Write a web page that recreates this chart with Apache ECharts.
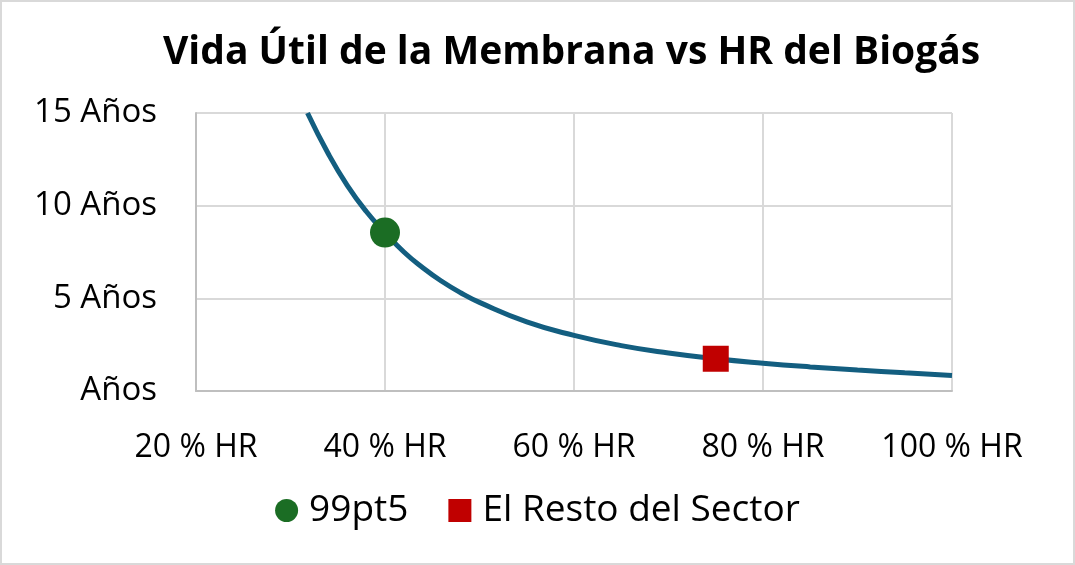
<!DOCTYPE html>
<html>
<head>
    <meta charset="utf-8">
    <title>Vida Útil de la Membrana</title>
    <style>
        html, body { margin: 0; padding: 0; background: #fff; }
        #chart { width: 1075px; height: 565px; box-sizing: border-box; border: 2px solid #d9d9d9; }
    </style>
</head>
<body>
    <div id="chart"></div>
    <script src="https://cdn.jsdelivr.net/npm/echarts@6/dist/echarts.min.js"></script>
    <script>
        // curve: % HR -> years
        var hr = [31.8, 34, 36, 38, 40, 42, 44, 46, 48, 50, 55, 60, 65, 70, 75, 80, 85, 90, 95, 100];
        var years = [15, 12.8, 11.1, 9.7, 8.55, 7.5, 6.65, 5.92, 5.3, 4.78, 3.73, 3.0, 2.45, 2.05, 1.74, 1.5, 1.3, 1.13, 0.98, 0.84];

        var point99pt5 = [40, 8.55];
        var pointResto = [75, 1.74];

        var xTicks = { min: 20, max: 100, interval: 20 };
        var yTicks = { min: 0, max: 15, interval: 5 };

        var font = 'Open Sans';

        var curve = hr.map(function (h, i) { return [h, years[i]]; });

        var myChart = echarts.init(document.getElementById('chart'));
        var option = {
            animation: false,
            title: {
                text: 'Vida Útil de la Membrana vs HR del Biogás',
                left: 156,
                top: 26,
                textStyle: { fontFamily: font, fontWeight: 'bold', fontSize: 39, color: '#000' }
            },
            legend: {
                bottom: 29,
                left: 'center',
                itemWidth: 23,
                itemHeight: 23,
                itemGap: 40,
                textStyle: { fontFamily: font, fontSize: 37, color: '#000', padding: [0, 0, 0, 6] },
                data: [
                    { name: '99pt5', icon: 'circle' },
                    { name: 'El Resto del Sector', icon: 'rect' }
                ]
            },
            grid: { left: 194, right: 121, top: 111, bottom: 172 },
            xAxis: {
                type: 'value',
                min: xTicks.min,
                max: xTicks.max,
                interval: xTicks.interval,
                axisLine: { show: true, lineStyle: { color: '#bfbfbf', width: 2 } },
                axisTick: { show: false },
                splitLine: { show: true, lineStyle: { color: '#d9d9d9', width: 2 } },
                axisLabel: {
                    margin: 41,
                    fontFamily: font, fontSize: 32, color: '#000',
                    formatter: function (v) { return v + ' % HR'; }
                }
            },
            yAxis: {
                type: 'value',
                min: yTicks.min,
                max: yTicks.max,
                interval: yTicks.interval,
                axisLine: { show: true, lineStyle: { color: '#bfbfbf', width: 2 } },
                axisTick: { show: false },
                splitLine: { show: true, lineStyle: { color: '#d9d9d9', width: 2 } },
                axisLabel: {
                    margin: 39,
                    fontFamily: font, fontSize: 33, color: '#000',
                    formatter: function (v) { return v === 0 ? 'Años' : v + ' Años'; }
                }
            },
            series: [
                {
                    name: 'curva',
                    type: 'line',
                    smooth: true,
                    showSymbol: false,
                    clip: true,
                    lineStyle: { color: '#135e80', width: 5 },
                    data: curve,
                    z: 2
                },
                {
                    name: '99pt5',
                    type: 'scatter',
                    symbol: 'circle',
                    symbolSize: 30,
                    itemStyle: { color: '#1b6d24', opacity: 1 },
                    data: [point99pt5],
                    z: 3
                },
                {
                    name: 'El Resto del Sector',
                    type: 'scatter',
                    symbol: 'rect',
                    symbolSize: 26,
                    itemStyle: { color: '#c00000', opacity: 1 },
                    data: [pointResto],
                    z: 3
                }
            ]
        };
        myChart.setOption(option);
    </script>
</body>
</html>
